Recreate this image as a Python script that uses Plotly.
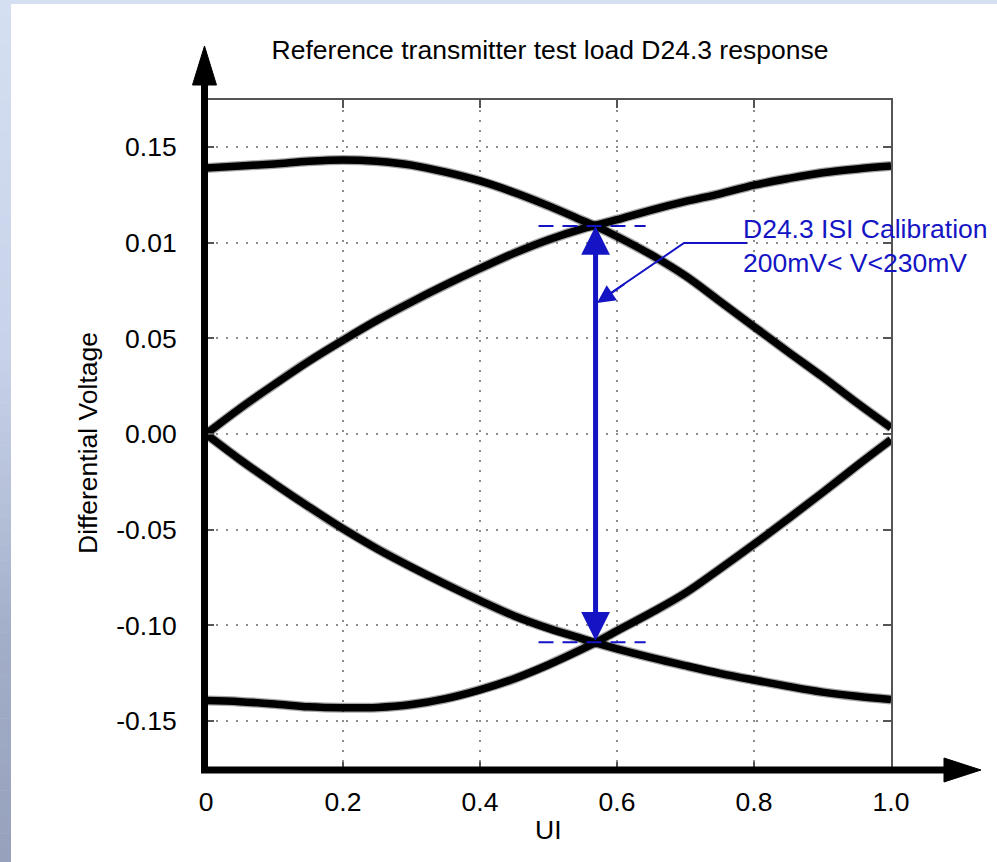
import plotly.graph_objects as go

# ---------------- data ----------------
ui = [0, 0.05, 0.1, 0.15, 0.2, 0.25, 0.3, 0.35, 0.4, 0.45, 0.5, 0.55, 0.568,
      0.6, 0.65, 0.7, 0.75, 0.8, 0.85, 0.9, 0.95, 1.0]
upper_arch = [0.139, 0.140, 0.1411, 0.1425, 0.1432, 0.1425, 0.1405, 0.1368, 0.1322,
              0.1262, 0.1192, 0.1115, 0.1087, 0.1032, 0.0936, 0.0826, 0.0694, 0.0561,
              0.0429, 0.0299, 0.0163, 0.0033]
rising_upper = [0.0, 0.0135, 0.026, 0.038, 0.049, 0.0595, 0.069, 0.078, 0.0865,
                0.0945, 0.1015, 0.1073, 0.109, 0.112, 0.117, 0.1215, 0.1255, 0.130,
                0.1335, 0.1365, 0.1385, 0.140]
lower_arch = [-0.1392, -0.1398, -0.141, -0.1425, -0.143, -0.1428, -0.1413, -0.1382,
              -0.1336, -0.1278, -0.1205, -0.1122, -0.109, -0.1028, -0.0933, -0.0830,
              -0.0705, -0.0576, -0.0442, -0.0306, -0.0166, -0.003]
falling_lower = [0.0, -0.0135, -0.026, -0.038, -0.0495, -0.06, -0.0695, -0.0785,
                 -0.087, -0.095, -0.1015, -0.107, -0.109, -0.1122, -0.1168, -0.121,
                 -0.125, -0.1285, -0.1318, -0.1348, -0.137, -0.1387]

x_tickvals = [0, 0.2, 0.4, 0.6, 0.8, 1.0]
x_ticktext = ["0", "0.2", "0.4", "0.6", "0.8", "1.0"]
y_tickvals = [0.15, 0.10, 0.05, 0.0, -0.05, -0.10, -0.15]
y_ticktext = ["0.15", "0.01", "0.05", "0.00", "-0.05", "-0.10", "-0.15"]

cross_ui = 0.5687
eye_top = 0.1087
eye_bottom = -0.1088
dash_span = [0.4854, 0.6418]

title_text = "Reference transmitter test load D24.3 response"
x_title = "UI"
y_title = "Differential Voltage"
calib_text = "D24.3 ISI Calibration<br>200mV< V<230mV"

# ---------------- layout geometry ----------------
W, H = 997, 862
L, R, T, B = 206, 891, 100, 770
pw, ph = R - L, B - T


def fx(px):
    return (px - L) / pw


def fy(py):
    return (B - py) / ph


FONT = "Liberation Sans, Arial, sans-serif"
FS = 26.5
BLUE = "#1414C4"

fig = go.Figure()
for series in [upper_arch, rising_upper, lower_arch, falling_lower]:
    fig.add_trace(go.Scatter(x=ui, y=series, mode="lines",
                             line=dict(color="rgba(0,0,0,0.35)", width=10, shape="spline"),
                             hoverinfo="skip", showlegend=False))
    fig.add_trace(go.Scatter(x=ui, y=series, mode="lines",
                             line=dict(color="black", width=7.5, shape="spline"),
                             showlegend=False))

shapes = []


def hexmix(c1, c2, t):
    a = [int(c1[i:i + 2], 16) for i in (1, 3, 5)]
    b = [int(c2[i:i + 2], 16) for i in (1, 3, 5)]
    return "#%02x%02x%02x" % tuple(round(a[k] + (b[k] - a[k]) * t) for k in range(3))


# background bands (left gradient, top band)
stops = [(0, "#d4dff1"), (350, "#c8d3ea"), (520, "#b3bed7"), (640, "#a2adc7"), (862, "#97a1bc")]
n = 60
for i in range(n):
    y0p = H * i / n
    y1p = H * (i + 1) / n
    ym = (y0p + y1p) / 2
    col = stops[-1][1]
    for j in range(len(stops) - 1):
        if stops[j][0] <= ym <= stops[j + 1][0]:
            t = (ym - stops[j][0]) / (stops[j + 1][0] - stops[j][0])
            col = hexmix(stops[j][1], stops[j + 1][1], t)
            break
    shapes.append(dict(type="rect", xref="paper", yref="paper", x0=fx(0), x1=fx(11),
                       y0=fy(y1p + 0.5), y1=fy(y0p),
                       fillcolor=col, line=dict(width=0), layer="below"))
shapes.append(dict(type="rect", xref="paper", yref="paper", x0=fx(0), x1=fx(W), y0=fy(4), y1=fy(0),
                   fillcolor="#d4dff1", line=dict(width=0), layer="below"))

# thick axes with arrowheads
shapes.append(dict(type="line", xref="paper", yref="paper", x0=fx(204.5), x1=fx(204.5), y0=fy(773), y1=fy(84),
                   line=dict(color="black", width=7)))
shapes.append(dict(type="path", xref="paper", yref="paper",
                   path="M %f %f L %f %f L %f %f Z" % (fx(204.5), fy(46), fx(192.5), fy(85), fx(216.5), fy(85)),
                   fillcolor="black", line=dict(color="black", width=1)))
shapes.append(dict(type="line", xref="paper", yref="paper", x0=fx(201), x1=fx(947), y0=fy(770), y1=fy(770),
                   line=dict(color="black", width=7)))
shapes.append(dict(type="path", xref="paper", yref="paper",
                   path="M %f %f L %f %f L %f %f Z" % (fx(981), fy(770), fx(944), fy(758), fx(944), fy(782)),
                   fillcolor="black", line=dict(color="black", width=1)))

# dashed calibration levels
for lvl in [eye_top, eye_bottom]:
    shapes.append(dict(type="line", xref="x", yref="y", x0=dash_span[0], x1=dash_span[1], y0=lvl, y1=lvl,
                       line=dict(color=BLUE, width=2, dash="15px,9px")))

# leader line from the text
shapes.append(dict(type="path", xref="paper", yref="paper",
                   path="M %f %f L %f %f L %f %f" % (fx(747), fy(243), fx(684), fy(243), fx(605), fy(297)),
                   line=dict(color=BLUE, width=2)))

annotations = [
    dict(x=cross_ui, y=eye_top, ax=cross_ui, ay=eye_bottom, xref="x", yref="y", axref="x", ayref="y",
         text="", showarrow=True, arrowhead=2, startarrowhead=2, arrowside="end+start",
         arrowwidth=5, arrowsize=1.15, startarrowsize=1.15, arrowcolor=BLUE),
    dict(x=fx(597), y=fy(303), xref="paper", yref="paper", ax=29, ay=-20,
         text="", showarrow=True, arrowhead=2, arrowwidth=2, arrowsize=1.8, arrowcolor=BLUE),
    dict(x=fx(741), y=fy(246), xref="paper", yref="paper", text=calib_text, showarrow=False,
         xanchor="left", yanchor="middle", align="left", font=dict(family=FONT, size=FS, color=BLUE)),
    dict(x=fx(88), y=fy(443), xref="paper", yref="paper", text=y_title, showarrow=False, textangle=-90,
         xanchor="center", yanchor="middle", font=dict(family=FONT, size=FS, color="black")),
    dict(x=fx(548), y=fy(830), xref="paper", yref="paper", text=x_title, showarrow=False,
         xanchor="center", yanchor="middle", font=dict(family=FONT, size=FS, color="black")),
]

axis_common = dict(showgrid=True, gridcolor="#8c8c8c", gridwidth=2, griddash="2px,8px",
                   ticks="inside", ticklen=8, tickwidth=2, tickcolor="#555555",
                   showline=True, linecolor="#555555", linewidth=2, mirror="ticks",
                   zeroline=False, tickfont=dict(family=FONT, size=FS, color="black"))

fig.update_layout(
    width=W, height=H,
    margin=dict(l=L, r=W - R, t=T, b=H - B, pad=0),
    paper_bgcolor="white", plot_bgcolor="white",
    title=dict(text=title_text, x=550 / W, y=1 - 50 / H, xref="container", yref="container",
               xanchor="center", yanchor="middle", font=dict(family=FONT, size=FS, color="black")),
    xaxis=dict(range=[0, 1.0], tickvals=x_tickvals, ticktext=x_ticktext, ticklabelstandoff=7, **axis_common),
    yaxis=dict(range=[-0.1755, 0.1745], tickvals=y_tickvals, ticktext=y_ticktext, ticklabelstandoff=22,
               **axis_common),
    shapes=shapes, annotations=annotations, showlegend=False,
)

fig.write_html("out.html", config={"displayModeBar": False},
               post_script="document.body.style.margin='0px';document.body.style.padding='0px';")
